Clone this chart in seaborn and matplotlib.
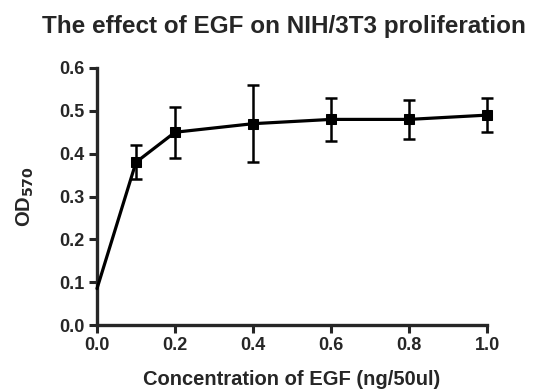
import matplotlib
matplotlib.use("Agg")
import matplotlib.pyplot as plt
import seaborn as sns
import pandas as pd

# EGF concentration (ng/50ul) vs OD570
conc = [0.0, 0.1, 0.2, 0.4, 0.6, 0.8, 1.0]
od570 = [0.085, 0.38, 0.45, 0.47, 0.48, 0.48, 0.49]
od_err = [0.0, 0.04, 0.06, 0.09, 0.05, 0.045, 0.04]
yticks = [0.0, 0.1, 0.2, 0.3, 0.4, 0.5, 0.6]
xticks = [0.0, 0.2, 0.4, 0.6, 0.8, 1.0]

df = pd.DataFrame({"conc": conc, "od": od570, "err": od_err})

sns.set_style("ticks")
plt.rcParams['font.family'] = ['Liberation Sans', 'DejaVu Sans']
plt.rcParams['font.weight'] = 'bold'

fig = plt.figure(figsize=(5.45, 3.92), dpi=100)
ax = fig.add_axes([97 / 545, (392 - 325) / 392, 390 / 545, 257 / 392])

# error bars first, then the line + square markers on top (no marker at 0)
eb = ax.errorbar(df["conc"][1:], df["od"][1:], yerr=df["err"][1:], fmt='none',
                 ecolor='black', elinewidth=1.8, capsize=4.5, capthick=1.8, zorder=2)
for art in eb.lines[1] + eb.lines[2]:
    art.set_clip_on(False)
sns.lineplot(data=df, x="conc", y="od", ax=ax, color='black', linewidth=2.3,
             marker='s', markersize=7.5, markeredgecolor='black', zorder=3,
             markevery=list(range(1, len(conc))), clip_on=False)

ax.set_xlim(0, 1.0)
ax.set_ylim(0, 0.6)
ax.set_xticks(xticks)
ax.set_yticks(yticks)
ax.set_xticklabels([f"{v:.1f}" for v in xticks])
ax.set_yticklabels([f"{v:.1f}" for v in yticks])
ax.tick_params(axis='both', which='major', labelsize=13, width=2.2, length=6,
               direction='out', pad=3)
for lab in ax.get_xticklabels() + ax.get_yticklabels():
    lab.set_fontweight('bold')

sns.despine(ax=ax)
for side in ['left', 'bottom']:
    ax.spines[side].set_linewidth(2.4)

ax.set_xlabel("Concentration of EGF (ng/50ul)", fontsize=14.5, fontweight='bold', labelpad=11)
ax.set_ylabel("OD$_{\\mathbf{570}}$", fontsize=14.5, fontweight='bold', labelpad=17)
ax.set_title("The effect of EGF on NIH/3T3 proliferation", fontsize=17.5,
             fontweight='bold', pad=25, x=0.48)

fig.savefig("out.png", dpi=100)
